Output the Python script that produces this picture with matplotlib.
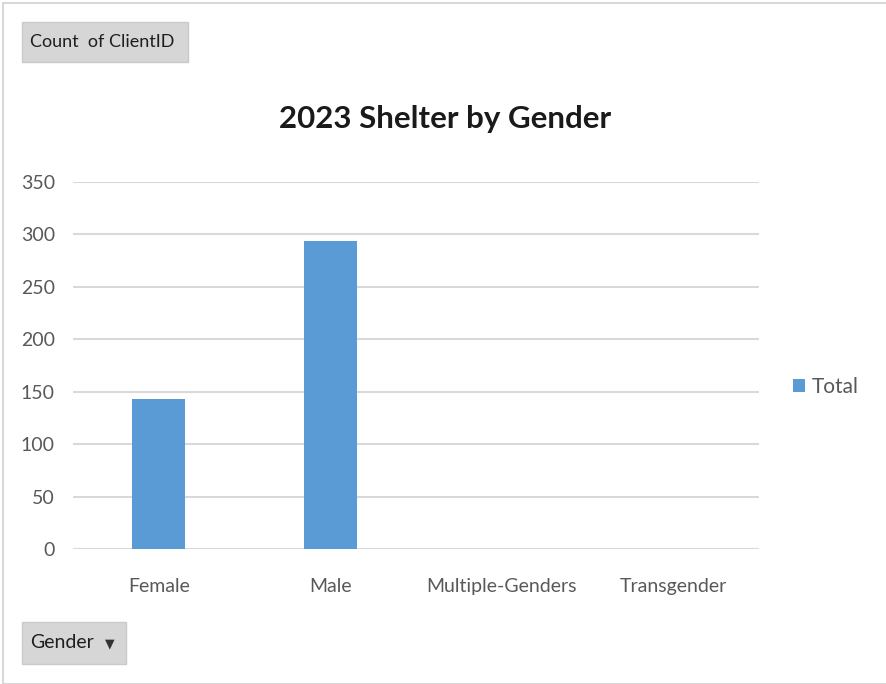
import matplotlib.pyplot as plt
from matplotlib.patches import Rectangle
import numpy as np

genders = ['Female', 'Male', 'Multiple-Genders', 'Transgender']
counts = [143, 294, 0, 0]
yticks = [0, 50, 100, 150, 200, 250, 300, 350]

plt.rcParams['font.family'] = ['Lato', 'DejaVu Sans']

W, H = 886, 684
fig = plt.figure(figsize=(W / 100, H / 100), dpi=100)

# axes box in pixels: left 73, right 759, top 182 (350), bottom 549 (0)
ax = fig.add_axes([73 / W, 1 - 549 / H, (759 - 73) / W, (549 - 182) / H])
x = np.arange(len(genders))
ax.bar(x, counts, width=0.31, color='#5b9bd5', zorder=3, label='Total')
ax.set_xlim(-0.5, len(genders) - 0.5)
ax.set_ylim(0, 350)
ax.set_yticks(yticks)
ax.set_xticks(x)
ax.set_xticklabels(genders)
ax.grid(axis='y', color='#d9d9d9', linewidth=1.5, zorder=0)
for s in ax.spines.values():
	s.set_visible(False)
ax.tick_params(length=0, labelsize=14, colors='#595959')
ax.tick_params(axis='x', pad=21)
ax.tick_params(axis='y', pad=13)

fig.text(445 / W, 1 - 119 / H, '2023 Shelter by Gender', ha='center', va='center',
	fontsize=22.5, fontweight='bold', color='#1a1a1a')

# legend
fig.legend(loc='center left', bbox_to_anchor=(774 / W, 1 - 387 / H), frameon=False,
	fontsize=15, handlelength=0.6, handleheight=0.6, handletextpad=0.3,
	labelcolor='#595959')

# pivot field buttons
def button(x0, y0, x1, y1, text, size):
	fig.patches.append(Rectangle((x0 / W, 1 - y1 / H), (x1 - x0) / W, (y1 - y0) / H,
		transform=fig.transFigure, facecolor='#d6d6d6', edgecolor='#cacaca', linewidth=1))
	fig.text((x0 + 8) / W, 1 - (y0 + y1) / 2 / H, text, ha='left', va='center',
		fontsize=size, color='#1e1e1e')

button(22, 22, 188, 62, 'Count  of ClientID', 13)
button(22, 622, 126, 664, 'Gender', 14)
fig.text(110 / W, 1 - 644 / H, '\u25bc', ha='center', va='center', fontsize=9,
	color='#333333', family='DejaVu Sans')

# outer frame
fig.patches.append(Rectangle((3 / W, 0), 1, 1 - 3 / H, transform=fig.transFigure,
	facecolor='none', edgecolor='#d0d0d0', linewidth=1.2))

fig.savefig('out.png', dpi=100)
